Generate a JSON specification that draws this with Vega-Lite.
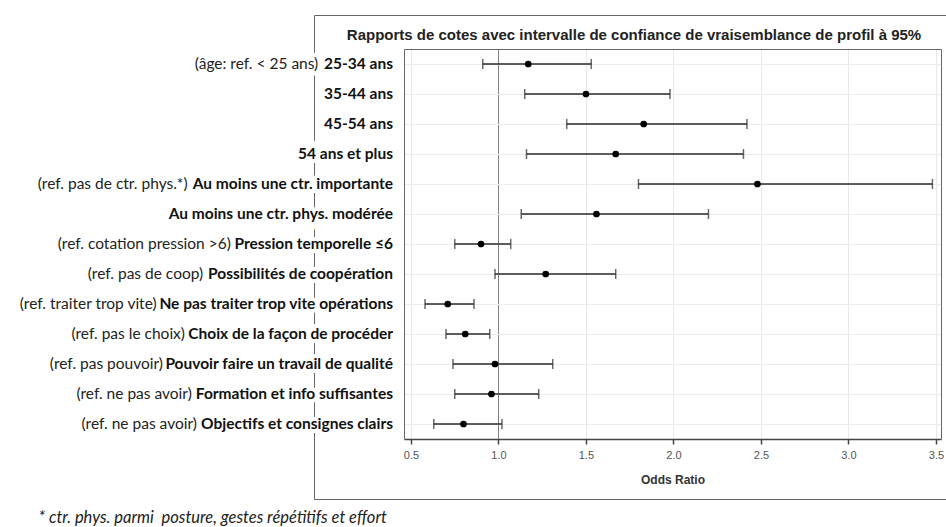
{
  "$schema": "https://vega.github.io/schema/vega-lite/v6.json",
  "width": 640,
  "height": 484,
  "autosize": {"type": "none"},
  "padding": {"left": 314, "top": 15, "right": 0, "bottom": 28},
  "background": "white",
  "title": {
    "text": "Rapports de cotes avec intervalle de confiance de vraisemblance de profil à 95%",
    "font": "Liberation Sans",
    "fontSize": 15,
    "fontWeight": "bold",
    "color": "#222222",
    "anchor": "middle",
    "baseline": "alphabetic",
    "offset": -40
  },
  "config": {"view": {"stroke": "#666666", "strokeWidth": 1}},
  "data": {
    "values": [
      {"label": "25-34 ans", "ref": "(âge: ref. < 25 ans)", "or": 1.17, "lo": 0.91, "hi": 1.53},
      {"label": "35-44 ans", "ref": "", "or": 1.50, "lo": 1.15, "hi": 1.98},
      {"label": "45-54 ans", "ref": "", "or": 1.83, "lo": 1.39, "hi": 2.42},
      {"label": "54 ans et plus", "ref": "", "or": 1.67, "lo": 1.16, "hi": 2.40},
      {"label": "Au moins une ctr. importante", "ref": "(ref. pas de ctr. phys.*)", "or": 2.48, "lo": 1.80, "hi": 3.48},
      {"label": "Au moins une ctr. phys. modérée", "ref": "", "or": 1.56, "lo": 1.13, "hi": 2.20},
      {"label": "Pression temporelle ≤6", "ref": "(ref. cotation pression >6)", "or": 0.90, "lo": 0.75, "hi": 1.07},
      {"label": "Possibilités de coopération", "ref": "(ref. pas de coop)", "or": 1.27, "lo": 0.98, "hi": 1.67},
      {"label": "Ne pas traiter trop vite opérations", "ref": "(ref. traiter trop vite)", "or": 0.71, "lo": 0.58, "hi": 0.86},
      {"label": "Choix de la façon de procéder", "ref": "(ref. pas le choix)", "or": 0.81, "lo": 0.70, "hi": 0.95},
      {"label": "Pouvoir faire un travail de qualité", "ref": "(ref. pas pouvoir)", "or": 0.98, "lo": 0.74, "hi": 1.31},
      {"label": "Formation et info suffisantes", "ref": "(ref. ne pas avoir)", "or": 0.96, "lo": 0.75, "hi": 1.23},
      {"label": "Objectifs et consignes clairs", "ref": "(ref. ne pas avoir)", "or": 0.80, "lo": 0.63, "hi": 1.02}
    ]
  },
  "layer": [
    {
      "mark": {"type": "rule", "color": "#2a2a2a", "strokeWidth": 1.5},
      "encoding": {
        "x": {
          "field": "lo", "type": "quantitative",
          "scale": {"domain": [0.46, 3.529], "range": [90, 627], "nice": false, "zero": false},
          "axis": {
            "orient": "bottom", "offset": -60,
            "values": [0.5, 1, 1.5, 2, 2.5, 3, 3.5], "format": ".1f",
            "grid": false,
            "domainColor": "#444444", "domainWidth": 1.5,
            "tickColor": "#444444", "tickSize": 5, "tickWidth": 1.5,
            "labelFont": "Liberation Sans", "labelFontSize": 11, "labelColor": "#555555", "labelPadding": 5,
            "title": "Odds Ratio", "titleFont": "Liberation Sans", "titleFontSize": 12, "titleFontWeight": "bold", "titleColor": "#333333", "titlePadding": 14
          }
        },
        "x2": {"field": "hi"},
        "y": {
          "field": "label", "type": "nominal", "sort": null,
          "scale": {"range": [34, 424], "paddingInner": 0, "paddingOuter": 0},
          "axis": {
            "orient": "left", "offset": -90,
            "labels": false, "ticks": false,
            "domain": true, "domainColor": "#666666",
            "grid": true, "gridColor": "#ececec",
            "title": "* ctr. phys. parmi\u00a0 posture, gestes répétitifs et effort",
            "titleAngle": 0, "titleX": -366, "titleY": 507,
            "titleAlign": "left", "titleBaseline": "alphabetic",
            "titleFont": "Lato", "titleFontStyle": "italic", "titleFontWeight": "normal",
            "titleFontSize": 16.5, "titleColor": "#222222"
          }
        }
      }
    },
    {
      "mark": {"type": "tick", "orient": "vertical", "size": 10, "thickness": 1.5, "color": "#2a2a2a"},
      "encoding": {
        "x": {
          "field": "lo", "type": "quantitative",
          "axis": {
            "orient": "top", "offset": -34,
            "values": [0.5, 1, 1.5, 2, 2.5, 3, 3.5],
            "grid": true, "gridColor": "#e8e8e8",
            "ticks": false, "labels": false,
            "domain": true, "domainColor": "#666666",
            "title": null
          }
        },
        "y": {
          "field": "label", "type": "nominal", "sort": null,
          "axis": {
            "orient": "right", "offset": -13,
            "grid": false, "ticks": false, "labels": false,
            "domain": true, "domainColor": "#666666",
            "title": null
          }
        }
      }
    },
    {
      "mark": {"type": "tick", "orient": "vertical", "size": 10, "thickness": 1.5, "color": "#2a2a2a"},
      "encoding": {
        "x": {"field": "hi", "type": "quantitative", "axis": null},
        "y": {"field": "label", "type": "nominal", "sort": null, "axis": null}
      }
    },
    {
      "mark": {"type": "circle", "size": 45, "color": "#000000", "opacity": 1},
      "encoding": {
        "x": {
          "field": "or", "type": "quantitative",
          "axis": {
            "orient": "top", "offset": -34,
            "values": [1],
            "grid": true, "gridColor": "#808080", "gridWidth": 1,
            "ticks": false, "labels": false, "domain": false,
            "title": null
          }
        },
        "y": {"field": "label", "type": "nominal", "sort": null, "axis": null}
      }
    },
    {
      "mark": {"type": "text", "align": "right", "baseline": "middle", "dx": -11, "font": "Lato", "fontSize": 15.5, "fontWeight": "bold", "fill": "white", "stroke": "white", "strokeWidth": 8},
      "encoding": {
        "x": {"datum": 0.46, "type": "quantitative", "axis": null},
        "y": {"field": "label", "type": "nominal", "sort": null, "axis": null},
        "text": {"field": "label"}
      }
    },
    {
      "mark": {"type": "text", "align": "right", "baseline": "middle", "font": "Lato", "fontSize": 15.5, "fontWeight": "normal", "fill": "white", "stroke": "white", "strokeWidth": 8,
        "dx": {"expr": "-18 - 15.5*(0.56*length(datum.label) - 0.37*length(replace(datum.label, regexp('[^ ]','g'), '')) - 0.31*length(replace(datum.label, regexp('[^ilj.,:;]','g'), '')) - 0.24*length(replace(datum.label, regexp('[^f]','g'), '')) - 0.18*length(replace(datum.label, regexp('[^tr]','g'), '')) - 0.23*length(replace(datum.label, regexp('[^()*-]','g'), '')) - 0.11*length(replace(datum.label, regexp('[^sz]','g'), '')) - 0.04*length(replace(datum.label, regexp('[^aevygké]','g'), '')) + 0.02*length(replace(datum.label, regexp('[^0-9]','g'), '')) + 0.26*length(replace(datum.label, regexp('[^mw]','g'), '')) + 0.14*length(replace(datum.label, regexp('[^ADGHKMNQRUVWXY]','g'), '')) + 0.04*length(replace(datum.label, regexp('[^OC]','g'), '')))"}},
      "encoding": {
        "x": {"datum": 0.46, "type": "quantitative", "axis": null},
        "y": {"field": "label", "type": "nominal", "sort": null, "axis": null},
        "text": {"field": "ref"}
      }
    },
    {
      "mark": {"type": "text", "align": "right", "baseline": "middle", "dx": -11, "font": "Lato", "fontSize": 15.5, "fontWeight": "bold", "color": "#111111"},
      "encoding": {
        "x": {"datum": 0.46, "type": "quantitative", "axis": null},
        "y": {"field": "label", "type": "nominal", "sort": null, "axis": null},
        "text": {"field": "label"}
      }
    },
    {
      "mark": {"type": "text", "align": "right", "baseline": "middle", "font": "Lato", "fontSize": 15.5, "fontWeight": "normal", "color": "#222222",
        "dx": {"expr": "-18 - 15.5*(0.56*length(datum.label) - 0.37*length(replace(datum.label, regexp('[^ ]','g'), '')) - 0.31*length(replace(datum.label, regexp('[^ilj.,:;]','g'), '')) - 0.24*length(replace(datum.label, regexp('[^f]','g'), '')) - 0.18*length(replace(datum.label, regexp('[^tr]','g'), '')) - 0.23*length(replace(datum.label, regexp('[^()*-]','g'), '')) - 0.11*length(replace(datum.label, regexp('[^sz]','g'), '')) - 0.04*length(replace(datum.label, regexp('[^aevygké]','g'), '')) + 0.02*length(replace(datum.label, regexp('[^0-9]','g'), '')) + 0.26*length(replace(datum.label, regexp('[^mw]','g'), '')) + 0.14*length(replace(datum.label, regexp('[^ADGHKMNQRUVWXY]','g'), '')) + 0.04*length(replace(datum.label, regexp('[^OC]','g'), '')))"}},
      "encoding": {
        "x": {"datum": 0.46, "type": "quantitative", "axis": null},
        "y": {"field": "label", "type": "nominal", "sort": null, "axis": null},
        "text": {"field": "ref"}
      }
    }
  ]
}
